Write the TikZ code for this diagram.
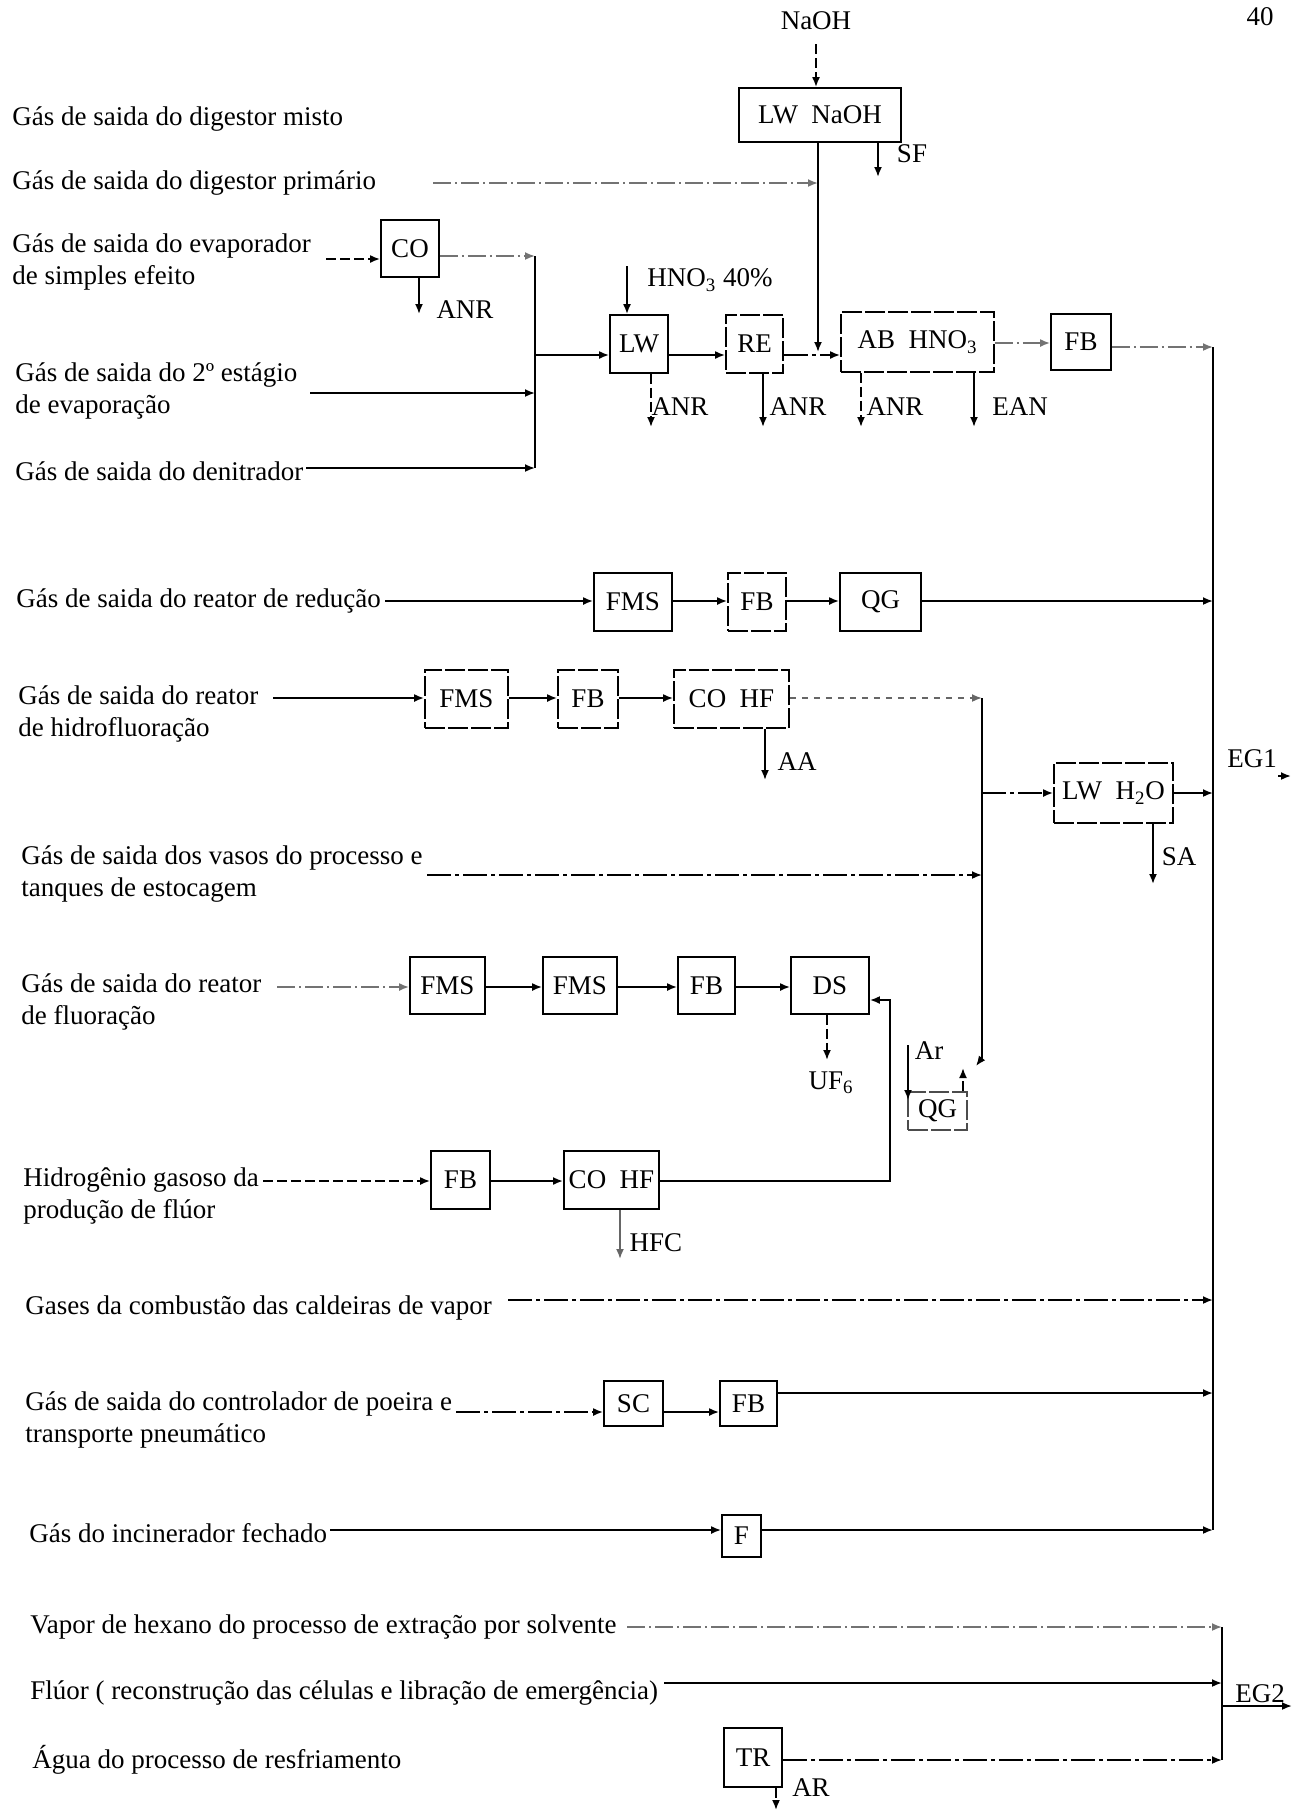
\documentclass[tikz,border=0pt]{standalone}
\usepackage{fontspec}
\setmainfont{Liberation Serif}
\usetikzlibrary{arrows.meta}
\begin{document}
\begin{tikzpicture}[x=0.5pt,y=-0.5pt,
  every node/.style={font=\fontsize{13.5}{16}\selectfont, inner sep=0pt},
  box/.style={draw, line width=0.9pt, inner sep=0pt},
  dbox/.style={box, dash pattern=on 10pt off 1.5pt},
  lbl/.style={anchor=west, align=left},
  pipe/.style={line width=0.9pt},
  flow/.style={pipe, -{Latex[length=5pt,width=4pt]}},
  flowf/.style={flow, black!55, dash pattern=on 9pt off 2pt on 1pt off 2pt},
  flowd/.style={flow, dash pattern=on 5pt off 2pt},
  flowdd/.style={flow, dash pattern=on 12pt off 2pt on 2pt off 2pt}]
\useasboundingbox[fill=white] (0,0) rectangle (1294,1812);

% ---------- left labels ----------
\node[lbl] (l1) at (12,119) {Gás de saida do digestor misto};
\node[lbl] (l2) at (12,183) {Gás de saida do digestor primário};
\node[lbl] (l3) at (12,262) {Gás de saida do evaporador\\de simples efeito};
\node[lbl] (l4) at (15,391) {Gás de saida do 2º estágio\\de evaporação};
\node[lbl] (l5) at (15,471) {Gás de saida do denitrador};
\node[lbl] (l6) at (16,601) {Gás de saida do reator de redução};
\node[lbl] (l7) at (18,714) {Gás de saida do reator\\de hidrofluoração};
\node[lbl] (l8) at (21,874) {Gás de saida dos vasos do processo e\\tanques de estocagem};
\node[lbl] (l9) at (21,1002) {Gás de saida do reator\\de fluoração};
\node[lbl] (l10) at (23,1196) {Hidrogênio gasoso da\\produção de flúor};
\node[lbl] (l11) at (25,1308) {Gases da combustão das caldeiras de vapor};
\node[lbl] (l12) at (25,1420) {Gás de saida do controlador de poeira e\\transporte pneumático};
\node[lbl] (l13) at (29,1533) {Gás do incinerador fechado};
\node[lbl] (l14) at (30,1627) {Vapor de hexano do processo de extração por solvente};
\node[lbl] (l15) at (30,1693) {Flúor ( reconstrução das células e libração de emergência)};
\node[lbl] (l16) at (32,1760) {Água do processo de resfriamento};

% ---------- boxes ----------
\node[box, minimum width=81pt, minimum height=27pt] (lwnaoh) at (820,115) {LW\enspace NaOH};
\node[box, minimum width=29pt, minimum height=28.5pt] (co) at (410,248.5) {CO};
\node[box, minimum width=29pt, minimum height=29pt] (lw) at (639,344) {LW};
\node[dbox, minimum width=28.5pt, minimum height=29pt] (re) at (754.5,344) {RE};
\node[dbox, minimum width=76.5pt, minimum height=30pt] (ab) at (917.5,342) {AB\enspace HNO\textsubscript{3}};
\node[box, minimum width=30pt, minimum height=28pt] (fba) at (1081,342) {FB};

\node[box, minimum width=39pt, minimum height=29pt] (fmsa) at (633,602) {FMS};
\node[dbox, minimum width=29pt, minimum height=29pt] (fbb) at (757,602) {FB};
\node[box, minimum width=40.5pt, minimum height=29pt] (qga) at (880.5,602) {QG};

\node[dbox, minimum width=41.5pt, minimum height=29pt] (fmsb) at (466.5,699) {FMS};
\node[dbox, minimum width=30pt, minimum height=29pt] (fbc) at (588,699) {FB};
\node[dbox, minimum width=57.5pt, minimum height=29pt] (cohfa) at (731.5,699) {CO\enspace HF};
\node[dbox, minimum width=59.5pt, minimum height=30pt] (lwh) at (1113.5,793) {LW\enspace H\textsubscript{2}O};

\node[box, minimum width=37.5pt, minimum height=28.5pt] (fmsc) at (447.5,985.5) {FMS};
\node[box, minimum width=37pt, minimum height=28.5pt] (fmsd) at (580,985.5) {FMS};
\node[box, minimum width=28.5pt, minimum height=28.5pt] (fbd) at (706.5,985.5) {FB};
\node[box, minimum width=39pt, minimum height=28.5pt] (ds) at (830,985.5) {DS};
\node[dbox, black!70, text=black, minimum width=29.5pt, minimum height=19pt] (qgb) at (937.5,1111) {QG};

\node[box, minimum width=29.5pt, minimum height=29pt] (fbe) at (460.5,1180) {FB};
\node[box, minimum width=47.5pt, minimum height=29pt] (cohfb) at (611.5,1180) {CO\enspace HF};

\node[box, minimum width=29.5pt, minimum height=22.5pt] (sc) at (633.5,1403.5) {SC};
\node[box, minimum width=28.5pt, minimum height=22.5pt] (fbf) at (748.5,1403.5) {FB};
\node[box, minimum width=19.5pt, minimum height=21pt] (fx) at (741.5,1536) {F};
\node[box, minimum width=29pt, minimum height=29.5pt] (tr) at (753,1757.5) {TR};

% ---------- small labels ----------
\node (naoh) at (816,21) {NaOH};
\node (pg) at (1260,17) {40};
\node (sf) at (912,154) {SF};
\node (hno) at (710,280) {HNO\textsubscript{3} 40\%};
\node (anr0) at (465,310) {ANR};
\node (anr1) at (680,407) {ANR};
\node (anr2) at (798,407) {ANR};
\node (anr3) at (895,407) {ANR};
\node (ean) at (1020,407) {EAN};
\node (aa) at (797,762) {AA};
\node (sa) at (1179,857) {SA};
\node (eg1) at (1252,759) {EG1};
\node (uf) at (831,1083) {UF\textsubscript{6}};
\node (ar) at (929,1051) {Ar};
\node (hfc) at (656,1243) {HFC};
\node (eg2) at (1260,1694) {EG2};
\node (arw) at (811,1788) {AR};

% ---------- free coordinates ----------
\coordinate (busT) at (1213,347);
\coordinate (busB) at (1213,1530);
\coordinate (b1T) at (535,256);
\coordinate (b1B) at (535,468);
\coordinate (b2T) at (982,698);
\coordinate (b2B) at (982,1058);
\coordinate (e2T) at (1222,1627);
\coordinate (e2B) at (1222,1760);

% ---------- top section ----------
\draw[flowd] (naoh.south) ++(0,14) -- (lwnaoh.north -| naoh);
\draw[flowf] (433,183) -- (818,183);
\draw[flow] (lwnaoh.south -| 818,0) -- (818,352);
\draw[flow] (lwnaoh.south -| 878,0) -- (878,177);

\draw[flowd] (326,259) -- (co.west |- 0,259);
\draw[flow] (co.south -| 419,0) -- (419,314);
\draw[flowf] (co.east |- b1T) -- (b1T);
\draw[pipe] (b1T) -- (b1B);
\draw[flow] (310,393) -- (535,393);
\draw[flow] (306,468) -- (b1B);
\draw[flow] (535,355) -- (lw.west |- 0,355);
\draw[flow] (627,266) -- (lw.north -| 627,0);
\draw[flow] (lw.east |- 0,355) -- (re.west |- 0,355);
\draw[flowdd] (re.east |- 0,355) -- (ab.west |- 0,355);
\draw[flowf] (ab.east |- 0,343) -- (fba.west |- 0,343);
\draw[flowf] (fba.east |- busT) -- (busT);

\draw[flowd] (lw.south -| 651,0) -- (651,427);
\draw[flow] (re.south -| 763,0) -- (763,427);
\draw[flowd] (ab.south -| 861,0) -- (861,427);
\draw[flow] (ab.south -| 974,0) -- (974,427);

% ---------- main bus EG1 ----------
\draw[pipe] (busT) -- (busB);

% reducao
\draw[flow] (385,601) -- (fmsa.west |- 0,601);
\draw[flow] (fmsa.east |- 0,601) -- (fbb.west |- 0,601);
\draw[flow] (fbb.east |- 0,601) -- (qga.west |- 0,601);
\draw[flow] (qga.east |- 0,601) -- (1213,601);

% hidrofluoracao
\draw[flow] (273,698) -- (fmsb.west |- 0,698);
\draw[flow] (fmsb.east |- 0,698) -- (fbc.west |- 0,698);
\draw[flow] (fbc.east |- 0,698) -- (cohfa.west |- 0,698);
\draw[flow, black!60, dash pattern=on 3pt off 3pt] (cohfa.east |- b2T) -- (b2T);
\draw[flow] (cohfa.south -| 765,0) -- (765,780);
\draw[flow] (b2T) -- (b2B) -- (976,1066);
\draw[flowdd] (982,793) -- (lwh.west |- 0,793);
\draw[flow] (lwh.east |- 0,793) -- (1213,793);
\draw[flow] (lwh.south -| 1153,0) -- (1153,884);
\draw[flow] (1278,776) -- (1291,776);

% vasos
\draw[flowdd] (427,875) -- (982,875);

% fluoracao
\draw[flowf] (277,987) -- (fmsc.west |- 0,987);
\draw[flow] (fmsc.east |- 0,987) -- (fmsd.west |- 0,987);
\draw[flow] (fmsd.east |- 0,987) -- (fbd.west |- 0,987);
\draw[flow] (fbd.east |- 0,987) -- (ds.west |- 0,987);
\draw[flowd] (ds.south -| 827,0) -- (827,1060);
\draw[flow] (cohfb.east |- 0,1181) -- (890,1181) -- (890,1000) -- (ds.east |- 0,1000);
\draw[flow] (908,1045) -- (908,1100);
\draw[flowd] (qgb.north -| 963,0) -- (963,1068);

% hidrogenio
\draw[flowd] (263,1181) -- (fbe.west |- 0,1181);
\draw[flow, line width=1.4pt] (fbe.east |- 0,1181) -- (cohfb.west |- 0,1181);
\draw[flow, black!60] (cohfb.south -| 620,0) -- (620,1259);

% combustao
\draw[flowdd] (508,1300) -- (1213,1300);

% controlador
\draw[flowdd] (456,1412) -- (sc.west |- 0,1412);
\draw[flow] (sc.east |- 0,1412) -- (fbf.west |- 0,1412);
\draw[flow] (fbf.east |- 0,1393) -- (1213,1393);

% incinerador
\draw[flow] (330,1530) -- (fx.west |- 0,1530);
\draw[flow] (fx.east |- busB) -- (busB);

% ---------- EG2 ----------
\draw[flowf] (627,1627) -- (e2T);
\draw[flow] (664,1683) -- (1222,1683);
\draw[flowdd] (tr.east |- e2B) -- (e2B);
\draw[pipe] (e2T) -- (e2B);
\draw[flow] (1222,1706) -- (1292,1706);
\draw[flowd] (tr.south -| 776,0) -- (776,1810);

\end{tikzpicture}
\end{document}
